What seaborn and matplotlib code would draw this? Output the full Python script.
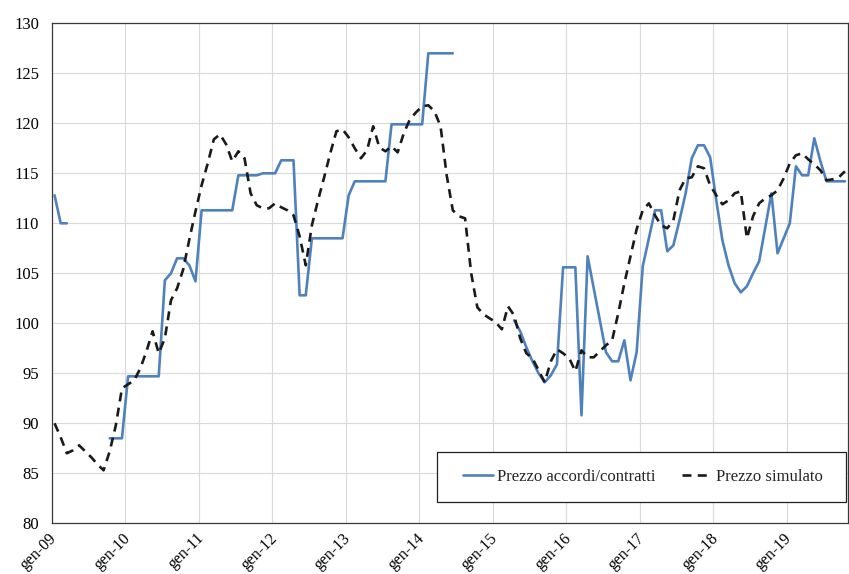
import numpy as np
import pandas as pd
import matplotlib
matplotlib.use("Agg")
import matplotlib.pyplot as plt
from matplotlib.patches import Rectangle
from matplotlib.transforms import ScaledTranslation
import seaborn as sns

nan = np.nan

# -----------------------------
# Data (monthly, gen-09 .. ott-19)
# -----------------------------
anni = ["09", "10", "11", "12", "13", "14", "15", "16", "17", "18", "19"]
tick_labels = ["gen-" + a for a in anni]

prezzo_accordi = [
    112.8, 110.0, 110.0, nan, nan, nan, nan, nan, nan, 88.5, 88.5, 88.5,
    94.7, 94.7, 94.7, 94.7, 94.7, 94.7, 104.3, 105.0, 106.5, 106.5, 105.8, 104.2,
    111.3, 111.3, 111.3, 111.3, 111.3, 111.3, 114.8, 114.8, 114.8, 114.8, 115.0, 115.0,
    115.0, 116.3, 116.3, 116.3, 102.8, 102.8, 108.5, 108.5, 108.5, 108.5, 108.5, 108.5,
    112.8, 114.2, 114.2, 114.2, 114.2, 114.2, 114.2, 119.9, 119.9, 119.9, 119.9, 119.9,
    119.9, 127.0, 127.0, 127.0, 127.0, 127.0, nan, nan, nan, nan, nan, nan,
    nan, nan, nan, 100.3, 99.2, 97.6, 96.2, 95.0, 94.1, 94.8, 95.9, 105.6,
    105.6, 105.6, 90.8, 106.7, 103.5, 100.3, 97.1, 96.2, 96.2, 98.3, 94.3, 97.1,
    105.7, 108.5, 111.3, 111.3, 107.2, 107.8, 110.3, 113.0, 116.5, 117.8, 117.8, 116.6,
    112.3, 108.3, 105.8, 104.0, 103.1, 103.7, 105.0, 106.2, 109.6, 113.0, 107.0, 108.5,
    110.0, 115.7, 114.8, 114.8, 118.5, 116.2, 114.2, 114.2, 114.2, 114.2,
]

prezzo_simulato = [
    90.0, 88.6, 87.0, 87.3, 87.8, 87.2, 86.6, 85.9, 85.3, 87.2, 89.8, 93.5,
    93.9, 94.3, 95.5, 97.2, 99.2, 97.0, 98.5, 102.3, 103.5, 105.4, 108.4, 111.2,
    113.8, 116.0, 118.4, 118.9, 117.9, 116.2, 117.2, 116.5, 113.0, 111.8, 111.5, 111.5,
    112.0, 111.6, 111.3, 110.8, 108.7, 105.8, 109.8, 112.3, 114.6, 117.0, 119.2, 119.4,
    118.6, 117.5, 116.5, 117.3, 119.7, 117.6, 117.2, 117.7, 117.1, 119.0, 120.4, 121.1,
    121.7, 121.8, 121.2, 119.7, 114.8, 111.3, 110.7, 110.5, 105.0, 101.6, 100.9, 100.5,
    100.1, 99.4, 101.7, 100.8, 98.5, 97.0, 96.5, 95.3, 94.1, 96.2, 97.4, 97.0,
    96.5, 95.2, 97.3, 96.6, 96.6, 97.2, 97.8, 98.3, 101.0, 104.0, 106.7, 109.4,
    111.3, 112.0, 110.8, 109.8, 109.5, 110.3, 113.3, 114.5, 114.6, 115.7, 115.5, 113.8,
    112.8, 111.9, 112.3, 113.0, 113.2, 108.5, 110.7, 112.0, 112.5, 112.8, 113.3, 114.5,
    116.0, 116.8, 117.0, 116.4, 115.9, 115.3, 114.3, 114.4, 114.6, 115.2,
]

serie_acc = "Prezzo accordi/contratti"
serie_sim = "Prezzo simulato"

# -----------------------------
# Long-form table
# -----------------------------
mesi = np.arange(len(prezzo_accordi))
acc = pd.DataFrame({"mese": mesi, "prezzo": prezzo_accordi, "serie": serie_acc})
# separate unit for each continuous stretch, so gaps stay open
acc["tratto"] = np.cumsum(acc["prezzo"].isna().to_numpy())
sim = pd.DataFrame({"mese": mesi, "prezzo": prezzo_simulato, "serie": serie_sim})
sim["tratto"] = 1000
df = pd.concat([acc, sim], ignore_index=True)

# -----------------------------
# Plot
# -----------------------------
sns.set_style("white")
plt.rcParams["font.family"] = ["Liberation Serif", "DejaVu Serif"]
plt.rcParams["font.size"] = 12

fig = plt.figure(figsize=(8.49, 5.74), dpi=100)
ax = fig.add_axes([51.5 / 849, 1 - 523.3 / 574, 796.5 / 849, 500 / 574])

sns.lineplot(
    data=df,
    x="mese",
    y="prezzo",
    hue="serie",
    style="serie",
    units="tratto",
    estimator=None,
    hue_order=[serie_acc, serie_sim],
    palette={serie_acc: "#4F81BD", serie_sim: "#1a1a1a"},
    dashes={serie_acc: "", serie_sim: (3.4, 2.4)},
    linewidth=1.9,
    ax=ax,
)

ax.set_xlim(-0.5, len(mesi) - 0.5)
ax.set_ylim(80, 130)
ax.set_yticks(np.arange(80, 131, 5))
ax.set_xticks(np.arange(len(anni)) * 12)
ax.set_xticklabels(tick_labels)
ax.set_xticks(np.arange(1, len(anni)) * 12 - 0.5, minor=True)

ax.grid(False)
ax.grid(axis="y", which="major", color="#d9d9d9", linewidth=0.8)
ax.grid(axis="x", which="minor", color="#d9d9d9", linewidth=0.8)
ax.set_axisbelow(True)

ax.tick_params(axis="both", which="both", length=0, labelsize=12, colors="black")
ax.tick_params(axis="y", pad=9)
ax.tick_params(axis="x", pad=5, labelsize=11.5)
shift = ScaledTranslation(-6 / 100, 0, fig.dpi_scale_trans)
for lab in ax.get_xticklabels():
    lab.set_rotation(45)
    lab.set_ha("right")
    lab.set_va("top")
    lab.set_rotation_mode("anchor")
    lab.set_transform(lab.get_transform() + shift)

ax.set_xlabel("")
ax.set_ylabel("")

for sp in ax.spines.values():
    sp.set_color("#3a3a3a")
    sp.set_linewidth(0.9)

# legend box
ax.add_patch(Rectangle((0.484, 0.0426), 0.5135, 0.1, transform=ax.transAxes,
                       facecolor="white", edgecolor="#202020", linewidth=0.9, zorder=4))
sns.move_legend(
    ax,
    "center left",
    bbox_to_anchor=(0.506, 0.0926),
    ncol=2,
    title=None,
    frameon=False,
    fontsize=12,
    borderpad=0,
    handlelength=1.83,
    handletextpad=0.2,
    columnspacing=1.6,
)
ax.get_legend().set_zorder(5)

fig.savefig("out.png", dpi=100)
